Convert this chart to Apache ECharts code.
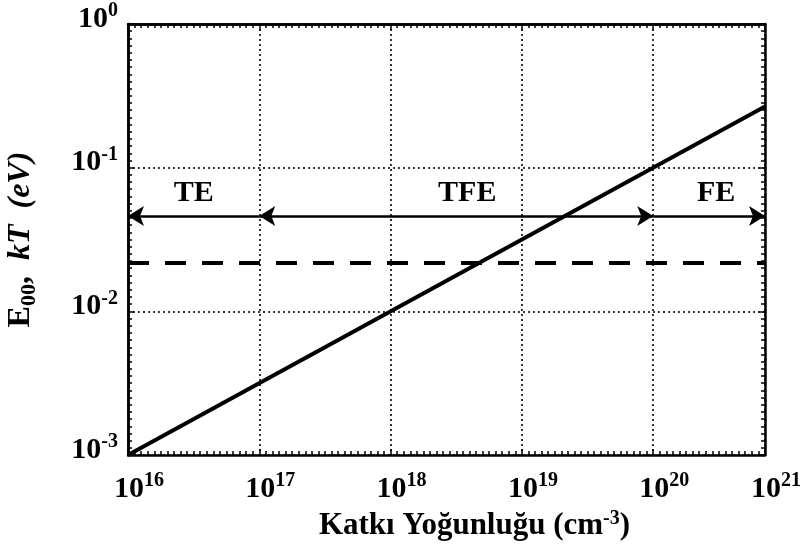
<!DOCTYPE html>
<html>
<head>
<meta charset="utf-8">
<script src="https://cdn.jsdelivr.net/npm/echarts@6/dist/echarts.min.js"></script>
<style>html,body{margin:0;padding:0;background:#fff}#c{width:802px;height:550px}</style>
</head>
<body>
<div id="c"></div>
<script>
// Data
const xMin = 1e16, xMax = 7.1e20;      // axis range (right edge labelled 10^21)
const yMin = 1e-3, yMax = 1;
const dopingN = [1e16, 7.1e20];        // cm^-3
const e00Values = [1.0e-3, 0.267];     // eV
const kTValues = [0.0217, 0.0217];     // eV
const regionNames = ['TE', 'TFE', 'FE'];
const regionStart = [1e16, 1e17, 1e20];
const regionEnd = [1e17, 1e20, 7.1e20];
const regionLevel = 0.0461;
const regionArrowStart = ['arrow', 'arrow', 'none'];
const regionArrowEnd = ['none', 'arrow', 'arrow'];

const FONT = '"Liberation Serif", "Times New Roman", serif';
const chart = echarts.init(document.getElementById('c'), null, {renderer: 'canvas'});

function expLabel(v) {
  const e = Math.round(Math.log10(v));
  return '{b|10}{s|' + e + '}';
}
const richTick = {
  b: {fontFamily: FONT, fontWeight: 'bold', fontSize: 30, color: '#000'},
  s: {fontFamily: FONT, fontWeight: 'bold', fontSize: 20, color: '#000', padding: [0, 0, 16, 0]}
};
const axisLine = {show: true, lineStyle: {color: '#000', width: 2.5}};
const grid = {type: [2, 3], color: '#000', width: 1.6};
const tickStyle = {color: '#000', width: 1.5};

// Decorative tick-only axes (evenly spaced minor ticks, as in the reference)
function tickAxis(pos, lo, hi) {
  return {
    type: 'value', min: lo, max: hi, interval: 1, position: pos,
    axisLine: axisLine,
    axisTick: {show: true, inside: true, length: 6, lineStyle: tickStyle},
    minorTick: {show: true, splitNumber: 20, length: 4, lineStyle: tickStyle},
    splitLine: {show: false}, axisLabel: {show: false}
  };
}
const xLo = Math.log10(xMin), xHi = Math.log10(xMax);
const yLo = Math.log10(yMin), yHi = Math.log10(yMax);

const markData = regionNames.map((n, i) => [
  {name: n, coord: [regionStart[i], regionLevel], symbol: regionArrowStart[i],
   label: n === 'TFE' ? {padding: [0, 0, 0, 22]} : (n === 'FE' ? {padding: [0, 0, 0, 14]} : {})},
  {coord: [regionEnd[i], regionLevel], symbol: regionArrowEnd[i]}
]);

chart.setOption({
  animation: false,
  backgroundColor: '#fff',
  grid: {left: 128, right: 37, top: 24, bottom: 95, containLabel: false, outerBoundsMode: 'none'},
  xAxis: [{
    type: 'log', logBase: 10, min: xMin, max: xMax, position: 'bottom',
    axisLine: axisLine,
    axisTick: {show: false},
    splitLine: {show: true, lineStyle: grid},
    axisLabel: {formatter: expLabel, rich: richTick, margin: 16, padding: [0, 0, 0, 22], showMaxLabel: true},
    name: '{t|Katkı Yoğunluğu (cm}{s|-3}{t|)}',
    nameLocation: 'middle', nameGap: 46,
    nameTextStyle: {padding: [0, 0, 0, 56], rich: {
      t: {fontFamily: FONT, fontWeight: 'bold', fontSize: 31, color: '#000'},
      s: {fontFamily: FONT, fontWeight: 'bold', fontSize: 20, color: '#000', padding: [0, 0, 14, 0]}
    }}
  }, tickAxis('top', xLo, xHi), tickAxis('bottom', xLo, xHi)],
  yAxis: [{
    type: 'log', logBase: 10, min: yMin, max: yMax, position: 'left',
    axisLine: axisLine,
    axisTick: {show: false},
    splitLine: {show: true, lineStyle: grid},
    axisLabel: {formatter: expLabel, rich: richTick, margin: 10, padding: [0, 0, 10, 0]},
    name: '{e|E}{sub|00}{e|,  }{i|kT}{e|  }{i|(eV)}',
    nameLocation: 'middle', nameGap: 88, nameRotate: 90,
    nameTextStyle: {padding: [0, 0, 0, 0], rich: {
      e: {fontFamily: FONT, fontWeight: 'bold', fontSize: 32, color: '#000'},
      sub: {fontFamily: FONT, fontWeight: 'bold', fontSize: 22, color: '#000', padding: [16, 0, 0, 0]},
      i: {fontFamily: FONT, fontWeight: 'bold', fontStyle: 'italic', fontSize: 32, color: '#000'}
    }}
  }, tickAxis('left', yLo, yHi), tickAxis('right', yLo, yHi)],
  series: [{
    name: 'E00', type: 'line', symbol: 'none', xAxisIndex: 0, yAxisIndex: 0,
    data: dopingN.map((x, i) => [x, e00Values[i]]),
    lineStyle: {color: '#000', width: 4}
  }, {
    name: 'kT', type: 'line', symbol: 'none', xAxisIndex: 0, yAxisIndex: 0,
    data: dopingN.map((x, i) => [x, kTValues[i]]),
    lineStyle: {color: '#000', width: 4, type: [21, 16]}
  }, {
    name: 'regions', type: 'line', data: [], xAxisIndex: 0, yAxisIndex: 0,
    markLine: {
      silent: true, animation: false,
      symbolSize: [15, 16],
      lineStyle: {color: '#000', width: 2.5, type: 'solid'},
      label: {show: true, position: 'middle', formatter: '{b}', distance: 8,
        fontFamily: FONT, fontWeight: 'bold', fontSize: 30, color: '#000'},
      emphasis: {disabled: true},
      data: markData
    }
  }]
});
</script>
</body>
</html>
